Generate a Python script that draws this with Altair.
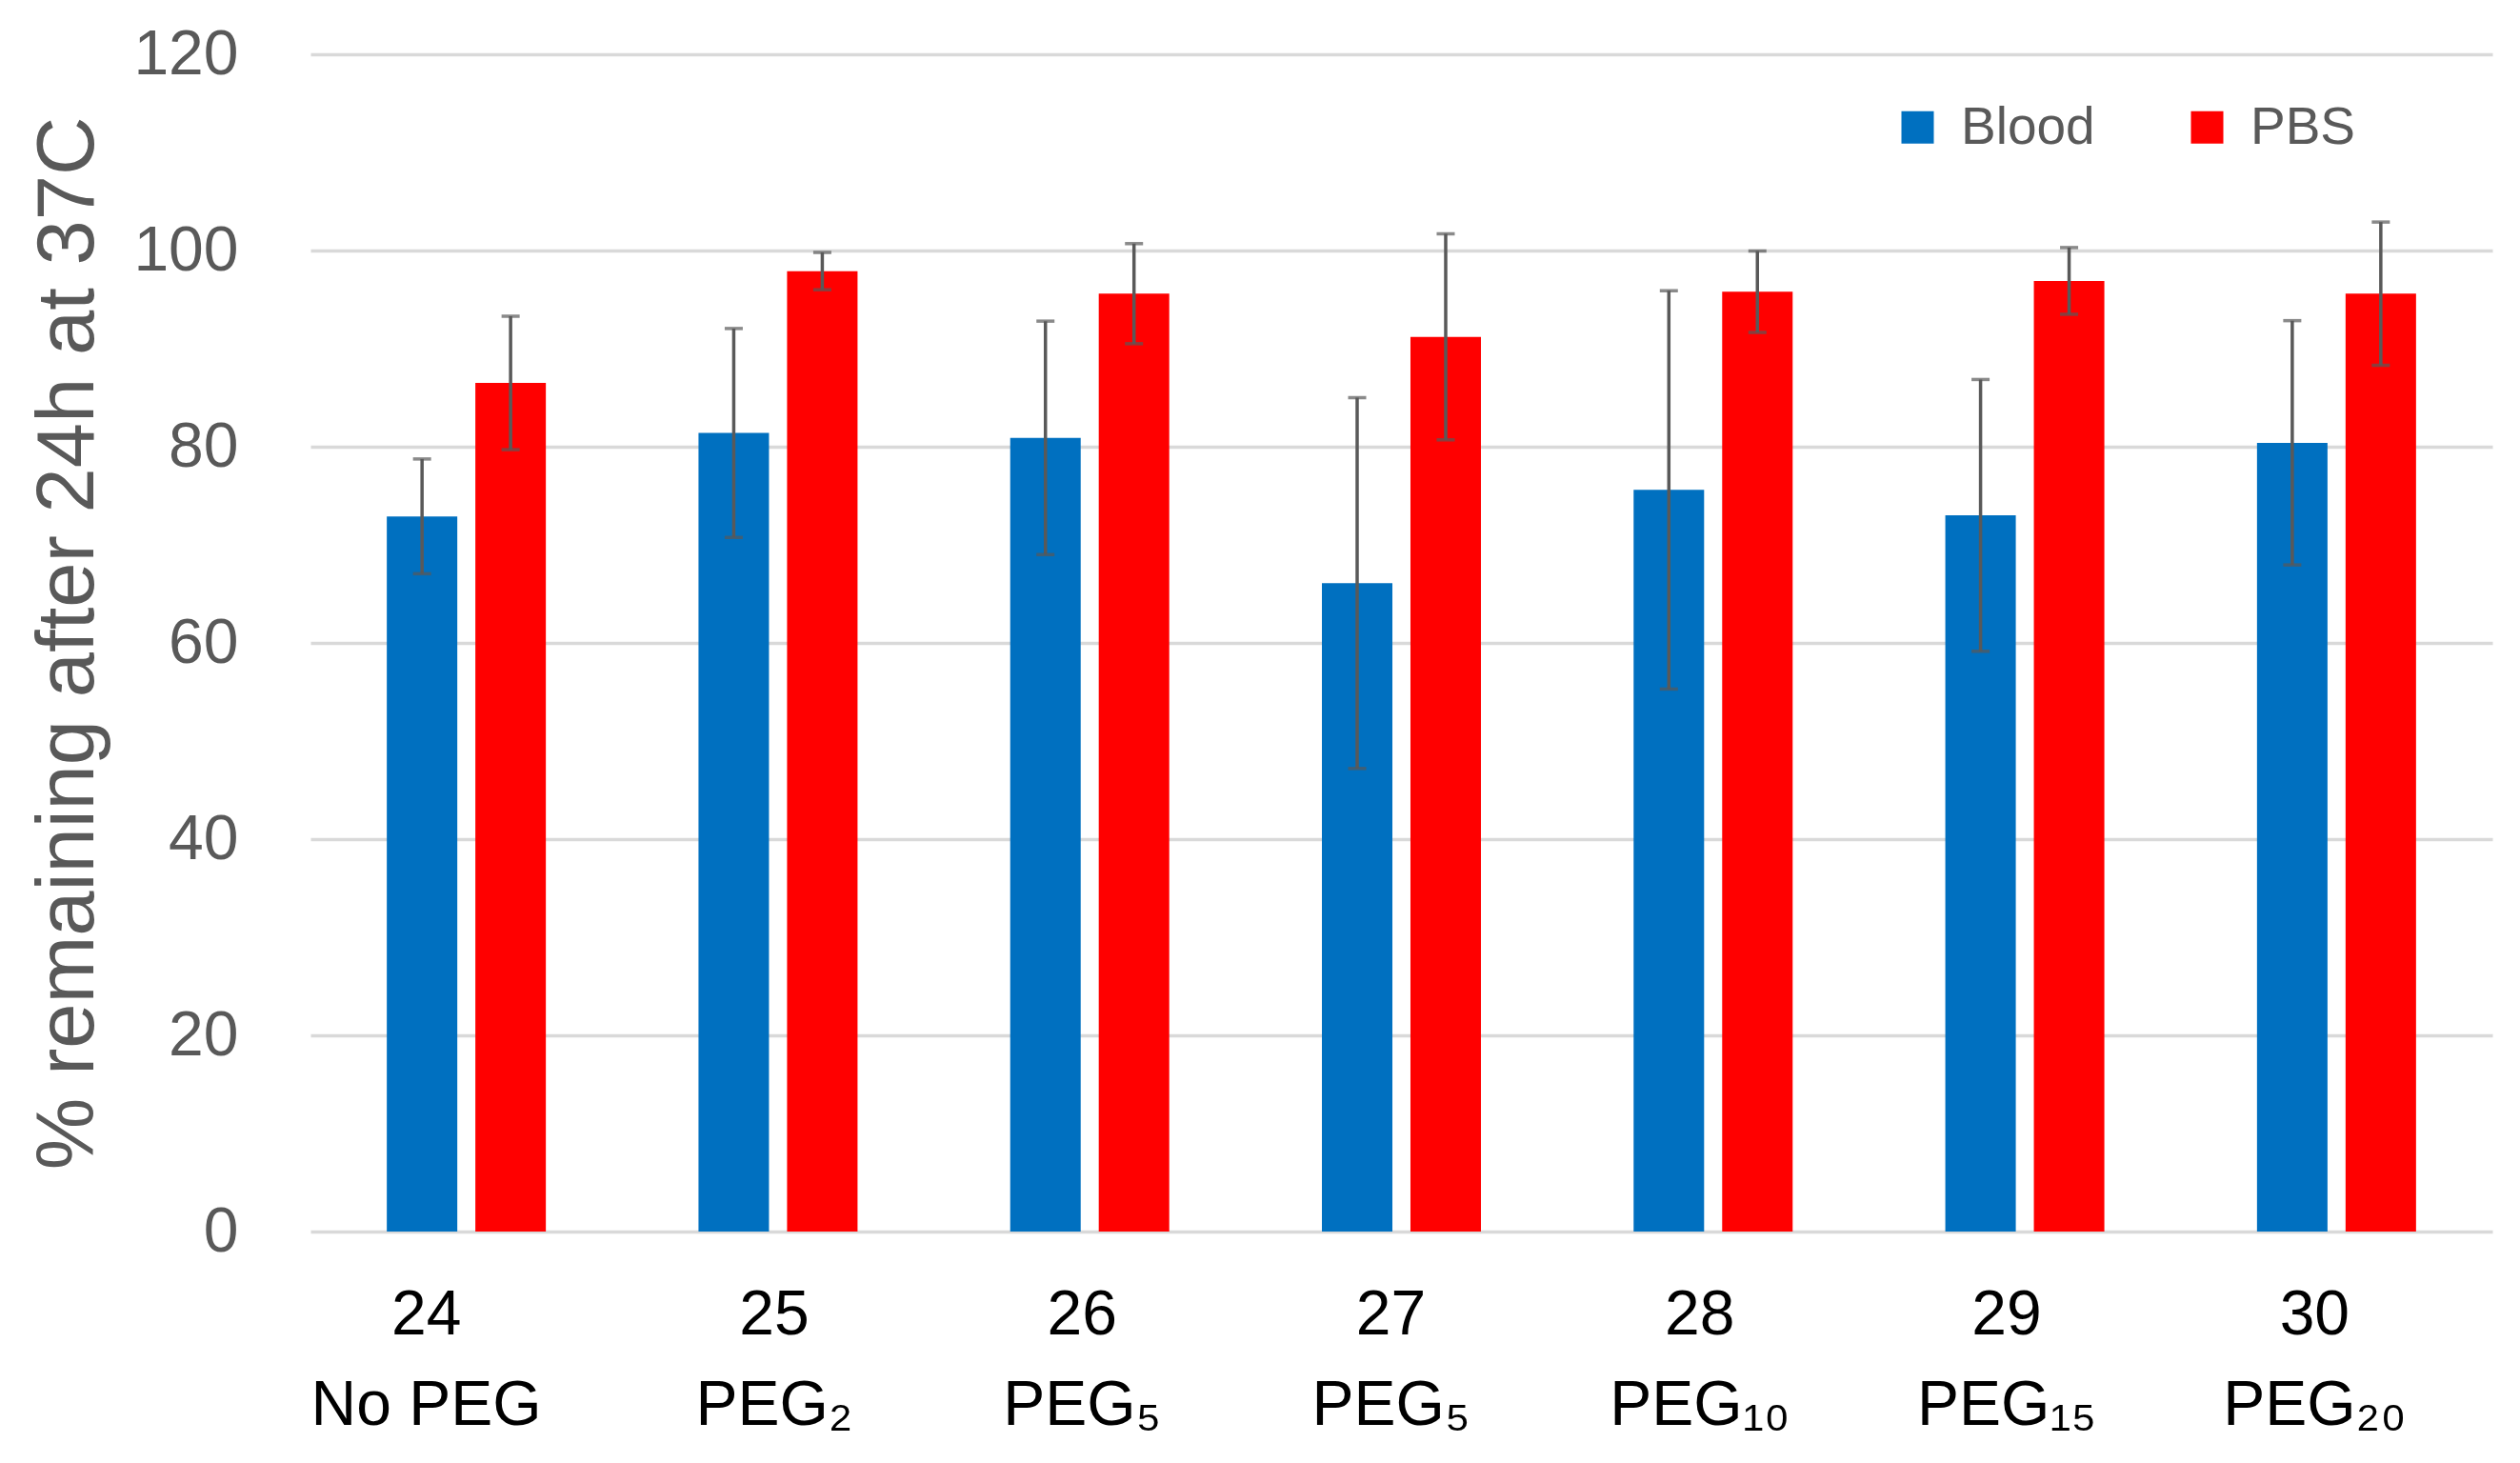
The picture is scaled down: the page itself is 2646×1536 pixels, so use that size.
import altair as alt
import pandas as pd

# ---- data ----
compounds = ["24", "25", "26", "27", "28", "29", "30"]
peg_labels = ["No PEG", "PEG₂", "PEG₅", "PEG₅", "PEG₁₀", "PEG₁₅", "PEG₂₀"]
series_names = ["Blood", "PBS"]
series_colors = ["#0070C0", "#FF0000"]

blood_mean = [72.9, 81.4, 80.9, 66.1, 75.6, 73.0, 80.4]
blood_err = [5.85, 10.65, 11.9, 18.9, 20.3, 13.85, 12.45]
pbs_mean = [86.5, 97.9, 95.6, 91.2, 95.8, 96.9, 95.6]
pbs_err = [6.8, 1.9, 5.1, 10.5, 4.15, 3.4, 7.3]

y_ticks = [0, 20, 40, 60, 80, 100, 120]

# ---- table built from the arrays ----
categories = [f"{c}\n{p}" for c, p in zip(compounds, peg_labels)]
rows = []
for i, cat in enumerate(categories):
    for name, means, errs in (("Blood", blood_mean, blood_err), ("PBS", pbs_mean, pbs_err)):
        m, e = means[i], errs[i]
        rows.append({"cat": cat, "series": name, "value": m, "lo": m - e, "hi": m + e})
df = pd.DataFrame(rows)

FONT = "Liberation Sans"
GREY = "#595959"

# label placement styling (the reference's labels sit slightly left of the bar pairs)
label_shift = {"24": -42, "25": -4, "26": -8, "27": -11, "28": -14, "29": -19, "30": -23}
offset_cond = {
    "condition": [
        {"test": f"slice(datum.value, 0, 2) == '{k}'", "value": v}
        for k, v in label_shift.items()
    ],
    "value": -14,
}

x_enc = alt.X(
    "cat:N",
    sort=categories,
    scale=alt.Scale(paddingInner=0, paddingOuter=0),
    axis=alt.Axis(
        title=None,
        orient="bottom",
        domain=False,
        ticks=False,
        grid=False,
        labelAngle=0,
        labelFontSize=66,
        labelColor="#000000",
        labelFont=FONT,
        labelBaseline="top",
        labelPadding=55,
        labelLineHeight=95,
        labelLimit=0,
        labelOffset=offset_cond,
        labelExpr="split(datum.label, '\\n')",
    ),
)
xoff_enc = alt.XOffset(
    "series:N",
    sort=series_names,
    scale=alt.Scale(paddingInner=0.204, paddingOuter=0.862),
)

base = alt.Chart(df).encode(x=x_enc, xOffset=xoff_enc)

bars = base.mark_bar().encode(
    y=alt.Y(
        "value:Q",
        scale=alt.Scale(domain=[0, 120], nice=False, zero=True),
        axis=alt.Axis(
            values=y_ticks,
            grid=True,
            gridColor="#D9D9D9",
            gridWidth=3.3,
            domain=False,
            ticks=False,
            labelFontSize=66,
            labelColor=GREY,
            labelFont=FONT,
            labelPadding=76,
            title="% remaining after 24h at 37C",
            titleFontSize=85,
            titleFont=FONT,
            titleFontWeight="normal",
            titleColor=GREY,
            titleAngle=270,
            titleAlign="center",
            titleBaseline="bottom",
            titleX=-211,
            titleY=618,
        ),
    ),
    color=alt.Color(
        "series:N",
        sort=series_names,
        scale=alt.Scale(domain=series_names, range=series_colors),
        legend=alt.Legend(
            title=None,
            orient="none",
            legendX=1660,
            legendY=49,
            direction="horizontal",
            symbolType="square",
            symbolSize=1156,
            symbolStrokeWidth=0,
            labelFontSize=55,
            labelFont=FONT,
            labelColor=GREY,
            labelOffset=18,
            columnPadding=90,
            padding=0,
        ),
    ),
)

err_rule = base.mark_rule(color=GREY, strokeWidth=3.5).encode(
    y=alt.Y("lo:Q"), y2=alt.Y2("hi:Q")
)
cap_lo = base.mark_tick(color=GREY, size=19, thickness=3.5, orient="horizontal").encode(
    y=alt.Y("lo:Q")
)
cap_hi = base.mark_tick(color=GREY, size=19, thickness=3.5, orient="horizontal").encode(
    y=alt.Y("hi:Q")
)

chart = (
    alt.layer(bars, err_rule, cap_lo, cap_hi)
    .properties(
        width=2291,
        height=1236,
        autosize=alt.AutoSizeParams(type="none"),
        padding={"left": 318, "top": 49, "right": 21, "bottom": 235},
        background="white",
        view=alt.ViewBackground(stroke="transparent", strokeWidth=0),
    )
    .configure_view(strokeWidth=0, stroke="transparent")
    .configure_axis(domain=False, ticks=False)
    .configure_axisX(grid=False)
    .configure(font=FONT)
)

chart.save("out.html", embed_options={"renderer": "svg", "actions": False})
